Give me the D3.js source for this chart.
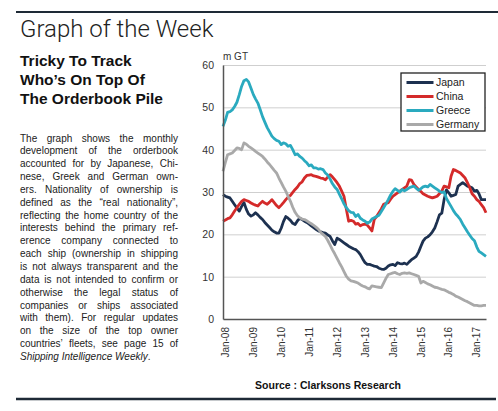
<!DOCTYPE html>
<html><head><meta charset="utf-8">
<script src="https://cdn.jsdelivr.net/npm/d3@7"></script>
<style>body{margin:0;background:#fff}</style>
</head><body><svg id="c" width="498" height="411"></svg>
<script>
// ---- data (monthly, Jan-08 .. Jun-17), m GT ----
const startYear = 2008;
const japan = [29.4,29,28.8,28.6,27.8,27,26.2,25.5,26.6,27.5,25.9,24.8,24.3,24.6,25.1,24.6,24,23.5,22.8,22.2,
21.6,21,20.6,20.3,20.3,21.5,23,24.2,23.8,23.3,22.6,22.3,23.2,23.8,23.5,23.1,22.8,22.4,22,21.6,
21.2,20.8,20.6,20.4,20.3,19.9,19.5,18.5,17.6,19.1,18.8,18.4,18,17.6,17.2,16.9,16.6,16.4,15.9,15.2,
14.2,13.3,12.9,12.9,12.7,12.5,12.4,12,11.8,11.7,12,12.5,12.8,12.9,12.6,13.3,13.1,13,13.2,12.9,
13.5,14,14.4,14.8,15.8,17.2,18.4,19.1,19.4,19.9,20.6,21.5,23,24.6,25,28.2,30.5,29.8,29,29.2,
29.4,31.4,31.8,32.2,31.8,31.4,31.2,31,30.2,30.4,29.6,28.2,28.2,28.2];
const china = [23.1,23.4,23.7,23.9,24.6,25.5,26.3,27.1,27.8,28.2,28,27.8,27.4,27.1,26.9,26.7,27.3,27.8,27.4,27.1,
27.6,28.2,27.5,26.8,26.3,26.9,27.5,28.2,28.8,29.2,29.9,30.6,31.2,32,32.4,33.3,33.9,34,34.1,33.8,
33.7,33.5,33.3,33.2,32.9,33.5,34.1,33.6,32.9,32.2,31.4,30.2,29,25.9,23.1,23.3,23.1,22.4,22.6,22,
22.3,22.4,22.2,21.5,20.8,23.5,24.2,25.1,26,27.1,27.3,27.5,28.3,29,29.4,29.8,30.2,30.6,31,31.4,
32.9,32.8,31.8,31.2,30.6,30.1,29.6,29.3,29,28.8,28.6,28.8,29,29.6,30.2,31.4,31.2,31,33.7,35.3,
35.1,34.8,34.5,33.9,33.3,32.2,31,29.6,29,28.2,27.8,27,26.3,25.1];
const greece = [45.5,47,48.8,49,49.4,50.2,51.2,53,55,56.3,56.6,56,54.5,53,52,51,49.5,47.8,46.5,45.2,
44.2,43.2,42.6,42.2,42,41.2,41.6,41.4,40.8,41,40,38.8,39,38.4,38,37.4,36.9,36.2,36.4,35.7,
35.7,35.4,35.5,35.3,34.5,34,33.1,32,31.2,30.6,29.5,28.4,27.2,26.3,25.6,25.2,25.1,24.2,24.7,23.8,
23.4,23.1,22.6,22.9,23.6,23.9,24.2,24.5,25.4,26.3,27.2,28.2,29.3,30.2,30.8,30.4,30,30.6,30.3,30.6,
31,31.2,31.4,30.9,30.4,30.8,31.2,31.4,31.2,31.8,31.4,31,30.6,30.2,29.9,30,28.5,27.5,26.6,25.6,
24.8,24.2,23.5,22.4,21.5,20.6,19.8,19,18.5,17,16,15.6,15.2,14.8];
const germany = [34.9,37,38.8,39,39.2,39.8,40.4,40.3,40,41.6,41.3,40.8,40.4,40,39.6,39.2,38.8,38.4,37.8,37.1,
36.5,35.8,35.1,34.5,33.3,32.2,31.2,30.2,29,27.8,26.4,25.2,24.4,23.9,23.6,23.5,23.2,22.8,22.5,22.1,
21.7,21.2,20.5,20,19.5,18.6,17.5,16.4,15.4,14.3,13.3,12.3,11.2,10.1,9.4,9,8.9,8.7,8.5,8.1,
7.8,7.6,7.3,7.1,7.8,7.7,7.6,7.5,7.4,8.5,9.6,10.5,10.7,10.9,11,10.7,10.5,10.8,10.9,10.8,
10.9,10.7,10.5,10.3,10.1,8.5,8.9,8.6,8.3,8.1,7.8,7.5,7.4,7.2,7,6.9,6.6,6.3,6.1,5.8,
5.4,5.2,4.9,4.6,4.3,4.1,3.8,3.5,3.2,3.2,3.1,3.1,3.2,3.2];
const seriesNames = ["Japan","China","Greece","Germany"];
const seriesColors = ["#1d3150","#d42a2a","#2aaabf","#a9a9a9"];
const xTickLabels = ["Jan-08","Jan-09","Jan-10","Jan-11","Jan-12","Jan-13","Jan-14","Jan-15","Jan-16","Jan-17"];
const yTicks = [0,10,20,30,40,50,60];
const bodyLines = [
"The graph shows the monthly",
"development of the orderbook",
"accounted for by Japanese, Chi-",
"nese, Greek and German own-",
"ers. Nationality of ownership is",
"defined as the \u201creal nationality\u201d,",
"reflecting the home country of the",
"interests behind the primary ref-",
"erence company connected to",
"each ship (ownership in shipping",
"is not always transparent and the",
"data is not intended to confirm or",
"otherwise the legal status of",
"companies or ships associated",
"with them). For regular updates",
"on the size of the top owner",
"countries\u2019 fleets, see page 15 of"];
const lastLine = "Shipping Intelligence Weekly";

const svg = d3.select("#c");
const F = "'Liberation Sans', Arial, Helvetica, sans-serif";
svg.append("rect").attr("width",498).attr("height",411).attr("fill","#fff");

// rules
svg.append("line").attr("x1",16).attr("x2",498).attr("y1",12).attr("y2",12).attr("stroke","#1e2a36").attr("stroke-width",2);
svg.append("line").attr("x1",16).attr("x2",496).attr("y1",399).attr("y2",399).attr("stroke","#1e2a36").attr("stroke-width",2.5);

// title
svg.append("text").attr("x",20).attr("y",37).attr("font-family","Roboto, "+F).attr("font-weight",300)
  .attr("font-size",24).attr("fill","#222").text("Graph of the Week");
// subtitle
["Tricky To Track","Who\u2019s On Top Of","The Orderbook Pile"].forEach((t,i)=>{
  svg.append("text").attr("x",20).attr("y",65.5+i*19.3).attr("font-family",F).attr("font-weight","bold")
    .attr("font-size",15.5).attr("fill","#111").text(t);
});

// body paragraph, justified
const bx0 = 20, bx1 = 178, by0 = 141.5, lh = 12.85, bfs = 10;
const bodyG = svg.append("g").attr("font-family",F).attr("font-size",bfs).attr("fill","#222");
const meas = bodyG.append("text");
function wlen(w){ meas.text(w); return meas.node().getComputedTextLength(); }
bodyLines.forEach((ln,i)=>{
  const words = ln.split(" ");
  const ws = words.map(wlen);
  const tot = d3.sum(ws);
  let sp = (bx1-bx0-tot)/(words.length-1);
  if (sp < 1.5) { sp = 1.5; }
  let x = bx0;
  const avail = bx1-bx0;
  const need = tot + sp*(words.length-1);
  const k = need > avail ? avail/need : 1;
  words.forEach((w,j)=>{
    bodyG.append("text").attr("x",x).attr("y",by0+i*lh).text(w)
      .attr("textLength", k<1 ? ws[j]*k : null);
    x += (ws[j]+sp)*k;
  });
});
meas.remove();
const ll = bodyG.append("text").attr("x",bx0).attr("y",by0+bodyLines.length*lh);
ll.append("tspan").attr("font-style","italic").text(lastLine);
ll.append("tspan").text(".");

// ---- chart ----
const months = japan.map((_,i)=>new Date(startYear, i, 1));
const x = d3.scaleTime().domain([months[0], months[months.length-1]]).range([223,486]);
const y = d3.scaleLinear().domain([0,60]).range([319,65]);

// grid
svg.append("g").attr("transform","translate(223,0)")
  .call(d3.axisLeft(y).tickValues(yTicks.slice(1)).tickSize(-263).tickFormat(""))
  .call(g=>g.select(".domain").remove())
  .call(g=>g.selectAll("line").attr("stroke","#cfcfcf").attr("stroke-width",1));

const series = [japan, china, greece, germany];
const line = d3.line().x((d,i)=>x(months[i])).y(d=>y(d));
series.forEach((s,k)=>{
  svg.append("path").datum(s).attr("d",line).attr("fill","none")
    .attr("stroke",seriesColors[k]).attr("stroke-width",2.8).attr("stroke-linejoin","round");
});

// axes
const ya = svg.append("g").attr("transform","translate(223,0)")
  .call(d3.axisLeft(y).tickValues(yTicks).tickSize(0).tickPadding(9));
ya.select(".domain").attr("stroke","#555").attr("stroke-width",1.5);
ya.selectAll("text").attr("font-family",F).attr("font-size",10.5).attr("fill","#333");

const xTickDates = xTickLabels.map((_,i)=>new Date(startYear+i,0,1));
const xa = svg.append("g").attr("transform","translate(0,319)")
  .call(d3.axisBottom(x).tickValues(xTickDates).tickSize(0).tickFormat((d,i)=>xTickLabels[i]));
xa.select(".domain").attr("stroke","#555").attr("stroke-width",1.5);
xa.selectAll("text").attr("font-family",F).attr("font-size",10).attr("fill","#333")
  .attr("transform","rotate(-90)").attr("x",-8).attr("y",2).attr("dy","0.35em").style("text-anchor","end");

svg.append("text").attr("x",223).attr("y",60).attr("font-family",F).attr("font-size",10).attr("fill","#333").text("m GT");

// legend
const lg = svg.append("g");
lg.append("rect").attr("x",401).attr("y",73).attr("width",84).attr("height",58)
  .attr("fill","#fff").attr("stroke","#222").attr("stroke-width",1.3);
seriesNames.forEach((n,i)=>{
  const yy = 82.5 + i*14;
  lg.append("line").attr("x1",406.5).attr("x2",433.5).attr("y1",yy).attr("y2",yy)
    .attr("stroke",seriesColors[i]).attr("stroke-width",3);
  lg.append("text").attr("x",436).attr("y",yy).attr("dy","0.35em").attr("font-family",F)
    .attr("font-size",10.5).attr("fill","#222").text(n);
});

// source
svg.append("text").attr("x",328).attr("y",389).attr("text-anchor","middle").attr("font-family",F)
  .attr("font-weight","bold").attr("font-size",10.5).attr("fill","#111").text("Source : Clarksons Research");
</script></body></html>
